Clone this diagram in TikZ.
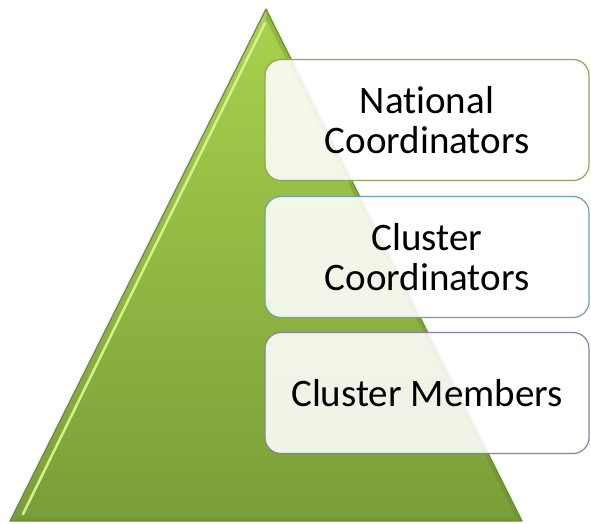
\documentclass[tikz,border=0pt]{standalone}
\usepackage{fontspec}
\setmainfont{Carlito}[Ligatures={NoCommon,NoRare,NoDiscretionary}]
\usetikzlibrary{positioning}
\definecolor{trtop}{RGB}{168,210,78}
\definecolor{trbot}{RGB}{122,158,56}
\definecolor{trline}{RGB}{110,140,60}
\definecolor{bevel}{RGB}{215,240,140}
\definecolor{bordA}{RGB}{140,165,95}
\definecolor{bordB}{RGB}{110,160,175}
\definecolor{bordC}{RGB}{140,125,170}
\tikzset{
  levelbox/.style={rounded corners=16pt, fill=white, fill opacity=0.88, text opacity=1,
    line width=1.2pt, minimum width=324pt, minimum height=121pt, align=center,
    font=\fontsize{39}{40}\selectfont, inner sep=0pt}
}
\begin{document}
\begin{tikzpicture}[x=1pt,y=-1pt]
\useasboundingbox (0,0) rectangle (591,523);
% pyramid
\coordinate (apex) at (266,9);
\coordinate (bl) at (10,521);
\coordinate (br) at (522,521);
\shade[top color=trtop, bottom color=trbot, shading angle=0] (apex) -- (br) -- (bl) -- cycle;
\fill[trbot!90!black, opacity=0.35] (bl) -- (br) -- ([shift={(-6,-4)}]br) -- ([shift={(9,-4)}]bl) -- cycle;
\fill[trbot!80!black, opacity=0.3] (apex) -- (br) -- ([shift={(-6,-4)}]br) -- ([shift={(0,10)}]apex) -- cycle;
\draw[bevel, line width=2.5pt, line cap=round] ([shift={(-1,14)}]apex) -- ([shift={(13,-7)}]bl);
\draw[trline, line width=1.2pt, line join=round] (apex) -- (br) -- (bl) -- cycle;
% boxes
\node[levelbox, draw=bordA] (nat) at (427,120) {National\\Coordinators};
\node[levelbox, draw=bordB] (clu) at (427,257) {Cluster\\Coordinators};
\node[levelbox, draw=bordC] (mem) at (427,393) {Cluster Members};
\end{tikzpicture}
\end{document}
